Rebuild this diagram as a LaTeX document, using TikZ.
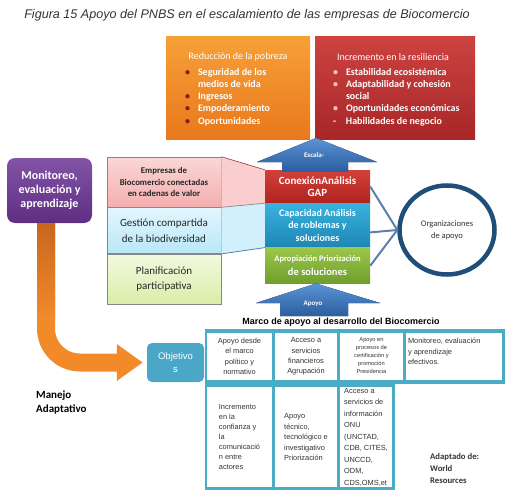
\documentclass[tikz,border=0pt]{standalone}
\usepackage{fontspec}
\setmainfont{Carlito}
\newfontfamily\arialfont{Liberation Sans}
\usepackage{tikz}
\usetikzlibrary{positioning, calc, arrows.meta, shapes.geometric}
\definecolor{orT}{HTML}{F7A038}
\definecolor{orB}{HTML}{E8781C}
\definecolor{rdT}{HTML}{CC4340}
\definecolor{rdB}{HTML}{A82628}
\definecolor{bulor}{HTML}{8B1A1A}
\definecolor{bulrd}{HTML}{F2C0C0}
\definecolor{purT}{HTML}{8253A6}
\definecolor{purB}{HTML}{5F2E82}
\definecolor{stkredT}{HTML}{D2403A}
\definecolor{stkredB}{HTML}{B0231F}
\definecolor{stkcyT}{HTML}{39B1DD}
\definecolor{stkcyB}{HTML}{1E86B5}
\definecolor{stkgrT}{HTML}{9BC64A}
\definecolor{stkgrB}{HTML}{6F9E2C}
\definecolor{arT}{HTML}{5A93D6}
\definecolor{arB}{HTML}{2B5E9E}
\definecolor{pkT}{HTML}{FBD6D6}
\definecolor{pkB}{HTML}{F4AFAF}
\definecolor{lcT}{HTML}{E3F6FD}
\definecolor{lcB}{HTML}{B8E7F8}
\definecolor{lgT}{HTML}{F3F9E0}
\definecolor{lgB}{HTML}{D8EDA8}
\definecolor{fieldgrey}{HTML}{8C8585}
\definecolor{tealcell}{HTML}{4BACC6}
\definecolor{objblue}{HTML}{4BA7C7}
\definecolor{circblue}{HTML}{1F4E79}
\definecolor{linkblue}{HTML}{5B7FAE}
\definecolor{adaptor}{HTML}{F28A2A}
\definecolor{adaptdark}{HTML}{C8661E}
\definecolor{celltext}{HTML}{333333}
\tikzstyle{goal} = [rectangle, minimum width=144pt, minimum height=102pt, inner sep=0pt]
\tikzstyle{goaltitle} = [text=white, inner sep=0pt, font=\fontsize{10}{12}\selectfont]
\tikzstyle{goallist} = [text=white, inner sep=0pt, align=left, font=\bfseries\fontsize{10}{12.3}\selectfont]
\tikzstyle{monitor} = [rectangle, rounded corners=8pt, minimum width=85pt, minimum height=65pt,
text=white, align=center, top color=purT, bottom color=purB, font=\bfseries\fontsize{12}{14}\selectfont]
\tikzstyle{field} = [rectangle, minimum width=114pt, inner sep=0pt, align=center, draw=fieldgrey,
line width=0.6pt, text=black!85]
\tikzstyle{stack} = [rectangle, minimum width=105pt, inner sep=0pt, text=white, align=center,
font=\bfseries\fontsize{10}{12.5}\selectfont]
\tikzstyle{arrowtext} = [text=white, inner sep=0pt, font=\bfseries\fontsize{7}{8}\selectfont]
\tikzstyle{bluearrow} = [top color=arT, bottom color=arB]
\tikzstyle{link} = [draw=linkblue, line width=2pt]
\tikzstyle{adaptive} = [draw=adaptor, line width=18pt, rounded corners=34pt,
-{Triangle[length=26pt, width=35pt]}, shorten >=4pt]
\tikzstyle{cell} = [rectangle, fill=white, inner sep=0pt, align=center, text=celltext,
font=\arialfont\fontsize{7.4}{10.4}\selectfont]
\newcommand{\obul}{\makebox[13pt][l]{\textcolor{bulor}{\textbullet}}}
\newcommand{\rbul}{\makebox[13pt][l]{\textcolor{bulrd}{\textbullet}}}
\newcommand{\gap}{\hspace*{13pt}}

\begin{document}
\begin{tikzpicture}[x=1pt, y=-1pt]
\useasboundingbox (0,0) rectangle (505,500);

% ------------------------- nodes -------------------------

% ----- node: 0
\node(0)[text=celltext, font=\arialfont\itshape\fontsize{12.6}{14}\selectfont] at (247,15) {Figura 15 Apoyo del PNBS en el escalamiento de las empresas de Biocomercio};
% ----- node: 1
\node(1)[goal, top color=orT, bottom color=orB] at (238,88) {};
\node(1t)[goaltitle] at ($(1.north)+(0,20)$) {Reducción de la pobreza};
\node(1l)[goallist, anchor=north west] at ($(1.north west)+(19,31)$) {\obul Seguridad de los\\\gap medios de vida\\\obul Ingresos\\\obul Empoderamiento\\\obul Oportunidades};
% ----- node: 16
\node(16)[goal, minimum width=160pt, top color=rdT, bottom color=rdB] at (395,88) {};
\node(16t)[goaltitle] at ($(16.north)+(-2,20)$) {Incremento en la resiliencia};
\node(16l)[goallist, anchor=north west] at ($(16.north west)+(18,31)$) {\rbul Estabilidad ecosistémica\\\rbul Adaptabilidad y cohesión\\\gap social\\\rbul Oportunidades económicas\\\makebox[13pt][l]{-}Habilidades de negocio};
% ----- node: 2
\node(2)[monitor] at (49.5,190.5) {Monitoreo,\\evaluación y\\aprendizaje};
% ----- node: 3
\node(3)[field, minimum height=50pt, top color=pkT, bottom color=pkB, font=\bfseries\fontsize{8.8}{11.5}\selectfont] at (164,182) {Empresas de\\Biocomercio conectadas\\en cadenas de valor};
% ----- node: 4
\node(4)[field, minimum height=46pt, below=0pt of 3, top color=lcT, bottom color=lcB, font=\fontsize{11}{15.5}\selectfont] {Gestión compartida\\de la biodiversidad};
% ----- node: 5
\node(5)[field, minimum height=50pt, below=0pt of 4, top color=lgT, bottom color=lgB, font=\fontsize{11}{15.5}\selectfont] {Planificación\\participativa};
% ----- node: 6
\node(6)[stack, minimum height=33pt, top color=stkredT, bottom color=stkredB, font=\bfseries\fontsize{11}{12.5}\selectfont] at (317.5,186.5) {ConexiónAnálisis\\GAP};
% ----- node: 7
\node(7)[stack, minimum height=44pt, below=0pt of 6, top color=stkcyT, bottom color=stkcyB] {Capacidad Análisis\\de roblemas y\\soluciones};
% ----- node: 8
\node(8)[stack, minimum height=36pt, below=0pt of 7, top color=stkgrT, bottom color=stkgrB, font=\bfseries\fontsize{10.5}{13.5}\selectfont] {{\fontsize{8.5}{9}\selectfont Apropiación Priorización}\\de soluciones};
% ----- node: 9
\node(9)[ellipse, draw=circblue, line width=4.5pt, fill=white, minimum width=95pt, minimum height=89pt, inner sep=0pt, align=center, text=celltext, font=\fontsize{8.5}{12}\selectfont] at (447,230) {Organizaciones\\de apoyo};
% ----- node: 10
\node(10)[rectangle, rounded corners=5pt, fill=objblue, minimum width=57pt, minimum height=39pt, inner sep=0pt, align=center, text=white, font=\arialfont\fontsize{9.5}{13}\selectfont] at (175.5,362.5) {Objetivo\\s};
% ----- node: 11
\node(11)[anchor=west, align=left, inner sep=0pt, font=\bfseries\fontsize{11}{13.5}\selectfont] at (36,402.5) {Manejo\\Adaptativo};
% ----- node: 12
\node(12)[font=\arialfont\bfseries\fontsize{9}{10}\selectfont] at (341,322) {Marco de apoyo al desarrollo del Biocomercio};
% ----- node: 13
\node(13)[anchor=west, align=left, inner sep=0pt, font=\bfseries\fontsize{8.7}{12}\selectfont, text=celltext] at (430,468) {Adaptado de:\\World\\Resources};

% ------------------------- arrows -------------------------

% ----- trapezoids between the fields and the stack
\fill[pkT!80!pkB] (3.north east) -- (6.north west) -- (6.south west) -- (3.south east) -- cycle;
\fill[lcT!60!lcB] (4.north east) -- (7.north west) -- (7.south west) -- (4.south east) -- cycle;
\draw[draw=rdB!60!fieldgrey, line width=0.7pt] (3.north east) -- (6.north west);
\draw[draw=fieldgrey, line width=0.7pt] (3.south east) -- (6.south west);
\draw[draw=linkblue, line width=0.8pt] (4.south east) -- (7.south west);

% ----- escala / apoyo
\fill[bluearrow] (282,171) -- (282,162) -- (257,162) -- (316,138) -- (377,162) -- (348,162) -- (348,171) -- cycle;
\node(14)[arrowtext] at (314,155) {Escala-};
\fill[bluearrow] (280,316) -- (280,303) -- (256,303) -- (316,283.5) -- (380,303) -- (348,303) -- (348,316) -- cycle;
\node(15)[arrowtext] at (313,304) {Apoyo};

% ----- stack to organizaciones
\draw[link] (6.east) -- (9.west);
\draw[link] ($(7.east)+(0,7)$) -- (9.west);
\draw[link] (8.east) -- (9.west);

% ----- manejo adaptativo
\draw[adaptive] ($(2.south)+(-3.5,0)$) |- (10.west);
\fill[top color=adaptdark, bottom color=adaptor] ($(2.south)+(-12.5,0)$) rectangle ($(2.south)+(5.5,95)$);

% ------------------------- table -------------------------

\fill[tealcell] (205,329) rectangle (505,384);
\fill[tealcell] (205,383) rectangle (395,490);
% ----- node: 20
\node(20)[cell, minimum width=65pt, minimum height=47pt] at (239.5,356.5) {Apoyo desde\\el marco\\político y\\normativo};
% ----- node: 21
\node(21)[cell, minimum width=62pt, minimum height=47pt] at (306,356.5) {Acceso a\\servicios\\financieros\\Agrupación};
% ----- node: 22
\node(22)[cell, minimum width=63pt, minimum height=47pt] at (371.5,356.5) {};
\begin{scope}
\clip (22.south west) rectangle (22.north east);
\node(22t)[cell, anchor=north, fill=none, font=\arialfont\fontsize{5.7}{8}\selectfont] at ($(22.north)+(0,5)$) {Apoyo en\\procesos de\\certificación y\\promoción\\Presidencia};
\end{scope}
% ----- node: 23
\node(23)[cell, minimum width=96pt, minimum height=47pt] at (454,356.5) {};
\node(23t)[cell, anchor=north west, align=left] at ($(23.north west)+(2,5.5)$) {Monitoreo, evaluación\\y aprendizaje\\efectivos.};
% ----- node: 24
\node(24)[cell, minimum width=65pt, minimum height=100pt] at (239.5,437) {};
\node(24t)[cell, align=left, font=\arialfont\fontsize{7.4}{10}\selectfont] at (24) {Incremento\\en la\\confianza y\\la\\comunicació\\n entre\\actores};
% ----- node: 25
\node(25)[cell, minimum width=62pt, minimum height=100pt] at (306,437) {};
\node(25t)[cell, align=left, font=\arialfont\fontsize{7.4}{10.5}\selectfont] at (25) {Apoyo\\técnico,\\tecnológico e\\investigativo\\Priorización};
% ----- node: 26
\node(26)[cell, minimum width=52pt, minimum height=100pt] at (366,437) {};
\node(26t)[cell, align=left, font=\arialfont\fontsize{7.4}{11.5}\selectfont] at (26) {Acceso a\\servicios de\\información\\ONU\\(UNCTAD,\\CDB, CITES,\\UNCCD,\\ODM,\\CDS,OMS,et};

\end{tikzpicture}
\end{document}
